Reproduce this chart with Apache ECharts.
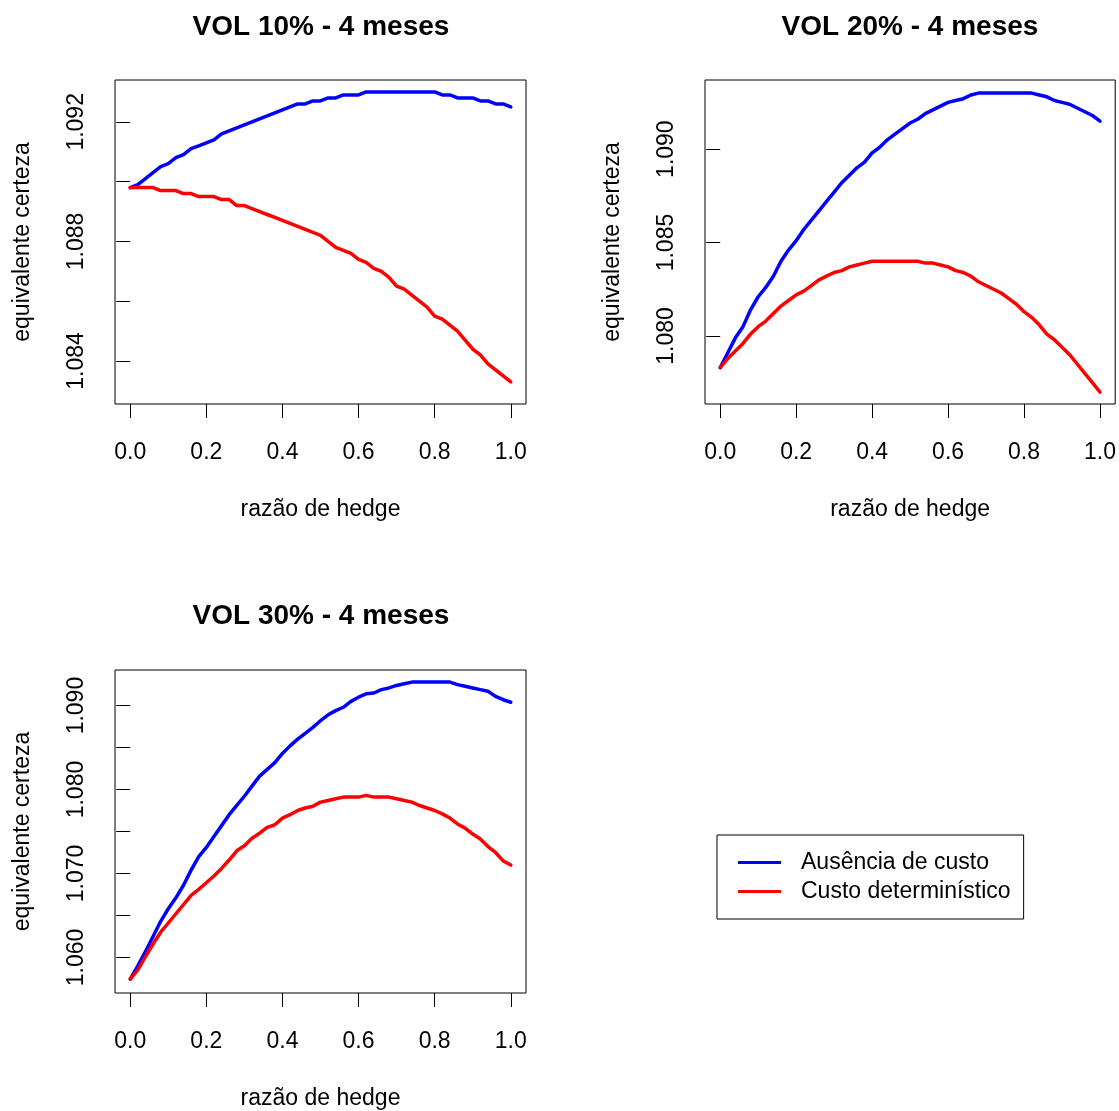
<!DOCTYPE html>
<html>
<head>
<meta charset="utf-8">
<script src="https://cdn.jsdelivr.net/npm/echarts@6/dist/echarts.min.js"></script>
<style>
  html, body { margin: 0; padding: 0; background: #fff; }
  #chart { width: 1119px; height: 1111px; }
</style>
</head>
<body>
<div id="chart"></div>
<script>
var myChart = echarts.init(document.getElementById('chart'));

// razão de hedge (x) e equivalente certeza (y) para cada volatilidade
var hedge = [0.00, 0.02, 0.04, 0.06, 0.08, 0.10, 0.12, 0.14, 0.16, 0.18,
    0.20, 0.22, 0.24, 0.26, 0.28, 0.30, 0.32, 0.34, 0.36, 0.38,
    0.40, 0.42, 0.44, 0.46, 0.48, 0.50, 0.52, 0.54, 0.56, 0.58,
    0.60, 0.62, 0.64, 0.66, 0.68, 0.70, 0.72, 0.74, 0.76, 0.78,
    0.80, 0.82, 0.84, 0.86, 0.88, 0.90, 0.92, 0.94, 0.96, 0.98, 1.00];

var vol10Sem = [1.0898, 1.0899, 1.0901, 1.0903, 1.0905, 1.0906, 1.0908, 1.0909, 1.0911, 1.0912,
    1.0913, 1.0914, 1.0916, 1.0917, 1.0918, 1.0919, 1.0920, 1.0921, 1.0922, 1.0923,
    1.0924, 1.0925, 1.0926, 1.0926, 1.0927, 1.0927, 1.0928, 1.0928, 1.0929, 1.0929,
    1.0929, 1.0930, 1.0930, 1.0930, 1.0930, 1.0930, 1.0930, 1.0930, 1.0930, 1.0930,
    1.0930, 1.0929, 1.0929, 1.0928, 1.0928, 1.0928, 1.0927, 1.0927, 1.0926, 1.0926, 1.0925];
var vol10Det = [1.0898, 1.0898, 1.0898, 1.0898, 1.0897, 1.0897, 1.0897, 1.0896, 1.0896, 1.0895,
    1.0895, 1.0895, 1.0894, 1.0894, 1.0892, 1.0892, 1.0891, 1.0890, 1.0889, 1.0888,
    1.0887, 1.0886, 1.0885, 1.0884, 1.0883, 1.0882, 1.0880, 1.0878, 1.0877, 1.0876,
    1.0874, 1.0873, 1.0871, 1.0870, 1.0868, 1.0865, 1.0864, 1.0862, 1.0860, 1.0858,
    1.0855, 1.0854, 1.0852, 1.0850, 1.0847, 1.0844, 1.0842, 1.0839, 1.0837, 1.0835, 1.0833];

var vol20Sem = [1.0783, 1.0791, 1.0799, 1.0805, 1.0814, 1.0821, 1.0826, 1.0832, 1.0840, 1.0846,
    1.0851, 1.0857, 1.0862, 1.0867, 1.0872, 1.0877, 1.0882, 1.0886, 1.0890, 1.0893,
    1.0898, 1.0901, 1.0905, 1.0908, 1.0911, 1.0914, 1.0916, 1.0919, 1.0921, 1.0923,
    1.0925, 1.0926, 1.0927, 1.0929, 1.0930, 1.0930, 1.0930, 1.0930, 1.0930, 1.0930,
    1.0930, 1.0930, 1.0929, 1.0928, 1.0926, 1.0925, 1.0924, 1.0922, 1.0920, 1.0918, 1.0915];
var vol20Det = [1.0783, 1.0788, 1.0792, 1.0796, 1.0801, 1.0805, 1.0808, 1.0812, 1.0816, 1.0819,
    1.0822, 1.0824, 1.0827, 1.0830, 1.0832, 1.0834, 1.0835, 1.0837, 1.0838, 1.0839,
    1.0840, 1.0840, 1.0840, 1.0840, 1.0840, 1.0840, 1.0840, 1.0839, 1.0839, 1.0838,
    1.0837, 1.0835, 1.0834, 1.0832, 1.0829, 1.0827, 1.0825, 1.0823, 1.0820, 1.0817,
    1.0813, 1.0810, 1.0806, 1.0801, 1.0798, 1.0794, 1.0790, 1.0785, 1.0780, 1.0775, 1.0770];

var vol30Sem = [1.0574, 1.0590, 1.0607, 1.0625, 1.0643, 1.0658, 1.0671, 1.0686, 1.0704, 1.0720,
    1.0731, 1.0744, 1.0757, 1.0770, 1.0781, 1.0792, 1.0804, 1.0816, 1.0824, 1.0832,
    1.0843, 1.0852, 1.0860, 1.0867, 1.0874, 1.0882, 1.0889, 1.0894, 1.0898, 1.0905,
    1.0910, 1.0914, 1.0915, 1.0919, 1.0921, 1.0924, 1.0926, 1.0928, 1.0928, 1.0928,
    1.0928, 1.0928, 1.0928, 1.0925, 1.0923, 1.0921, 1.0919, 1.0917, 1.0911, 1.0907, 1.0904];
var vol30Det = [1.0574, 1.0585, 1.0601, 1.0616, 1.0630, 1.0641, 1.0652, 1.0663, 1.0674, 1.0681,
    1.0689, 1.0697, 1.0706, 1.0716, 1.0727, 1.0733, 1.0742, 1.0748, 1.0755, 1.0758,
    1.0766, 1.0770, 1.0775, 1.0778, 1.0780, 1.0785, 1.0787, 1.0789, 1.0791, 1.0791,
    1.0791, 1.0793, 1.0791, 1.0791, 1.0791, 1.0789, 1.0787, 1.0785, 1.0781, 1.0778,
    1.0775, 1.0771, 1.0766, 1.0759, 1.0754, 1.0747, 1.0741, 1.0732, 1.0725, 1.0715, 1.0710];

var titles = ['VOL 10% - 4 meses', 'VOL 20% - 4 meses', 'VOL 30% - 4 meses'];
var xTicks = [0, 0.2, 0.4, 0.6, 0.8, 1.0];
var yTicks1 = [1.084, 1.086, 1.088, 1.090, 1.092];
var yLabels1 = [1.084, 1.088, 1.092];
var yTicks2 = [1.080, 1.085, 1.090];
var yLabels2 = [1.080, 1.085, 1.090];
var yTicks3 = [1.060, 1.065, 1.070, 1.075, 1.080, 1.085, 1.090];
var yLabels3 = [1.060, 1.070, 1.080, 1.090];
var serieNames = ['Ausência de custo', 'Custo determinístico'];

var FONT = 'Liberation Sans, Arial, Helvetica, sans-serif';

function pairs(ys) {
    var out = [];
    for (var i = 0; i < hedge.length; i++) out.push([hedge[i], ys[i]]);
    return out;
}

function xAxisFor(idx) {
    return {
        type: 'value', gridIndex: idx, min: -0.04, max: 1.04,
        name: 'razão de hedge', nameLocation: 'middle', nameGap: 94,
        nameTextStyle: {color: '#000', fontSize: 23, fontFamily: FONT, lineHeight: 23},
        axisLine: {show: false},
        axisTick: {show: true, inside: false, length: 14, customValues: xTicks,
            lineStyle: {color: '#000', width: 1}},
        axisLabel: {show: true, customValues: xTicks, margin: 37,
            color: '#000', fontSize: 23, fontFamily: FONT, lineHeight: 23,
            formatter: function (v) { return v.toFixed(1); }},
        splitLine: {show: false}
    };
}

function yAxisFor(idx, min, max, ticks, labels) {
    return {
        type: 'value', gridIndex: idx, min: min, max: max,
        name: 'equivalente certeza', nameLocation: 'middle', nameGap: 81,
        nameTextStyle: {color: '#000', fontSize: 23, fontFamily: FONT, lineHeight: 23},
        axisLine: {show: false},
        axisTick: {show: true, inside: false, length: 14, customValues: ticks,
            lineStyle: {color: '#000', width: 1}},
        axisLabel: {show: true, customValues: labels, rotate: 90, margin: 27,
            color: '#000', fontSize: 23, fontFamily: FONT, lineHeight: 23,
            formatter: function (v) { return v.toFixed(3); }},
        splitLine: {show: false}
    };
}

function lineSerie(name, color, idx, ys) {
    return {
        name: name, type: 'line', xAxisIndex: idx, yAxisIndex: idx,
        data: pairs(ys), symbol: 'none', showSymbol: false, color: color,
        lineStyle: {color: color, width: 3.5, cap: 'round', join: 'round'}
    };
}

var gridStyle = {show: true, borderColor: '#000', borderWidth: 1, backgroundColor: 'transparent'};

var option = {
    animation: false,
    backgroundColor: '#fff',
    title: [
        {text: titles[0], left: 321, top: 13, textAlign: 'center', padding: 0,
            textStyle: {fontSize: 28, fontWeight: 'bold', color: '#000', fontFamily: FONT, lineHeight: 28}},
        {text: titles[1], left: 910, top: 13, textAlign: 'center', padding: 0,
            textStyle: {fontSize: 28, fontWeight: 'bold', color: '#000', fontFamily: FONT, lineHeight: 28}},
        {text: titles[2], left: 321, top: 602, textAlign: 'center', padding: 0,
            textStyle: {fontSize: 28, fontWeight: 'bold', color: '#000', fontFamily: FONT, lineHeight: 28}}
    ],
    grid: [
        Object.assign({left: 115, top: 80, width: 411, height: 324}, gridStyle),
        Object.assign({left: 705, top: 80, width: 411, height: 324}, gridStyle),
        Object.assign({left: 115, top: 670, width: 411, height: 324}, gridStyle)
    ],
    xAxis: [xAxisFor(0), xAxisFor(1), xAxisFor(2)],
    yAxis: [
        yAxisFor(0, 1.08256, 1.09340, yTicks1, yLabels1),
        yAxisFor(1, 1.07636, 1.09370, yTicks2, yLabels2),
        yAxisFor(2, 1.05576, 1.09424, yTicks3, yLabels3)
    ],
    legend: {
        data: serieNames,
        orient: 'vertical',
        left: 717, top: 835,
        padding: [16, 13, 16, 21],
        itemGap: 6,
        itemWidth: 43, itemHeight: 3,
        icon: 'rect',
        borderColor: '#000', borderWidth: 1, backgroundColor: '#fff',
        selectedMode: false,
        textStyle: {color: '#000', fontSize: 23, fontFamily: FONT, lineHeight: 23, padding: [0, 0, 0, 15]}
    },
    series: [
        lineSerie(serieNames[0], '#0000ff', 0, vol10Sem),
        lineSerie(serieNames[1], '#ff0000', 0, vol10Det),
        lineSerie(serieNames[0], '#0000ff', 1, vol20Sem),
        lineSerie(serieNames[1], '#ff0000', 1, vol20Det),
        lineSerie(serieNames[0], '#0000ff', 2, vol30Sem),
        lineSerie(serieNames[1], '#ff0000', 2, vol30Det)
    ]
};

myChart.setOption(option);
</script>
</body>
</html>
